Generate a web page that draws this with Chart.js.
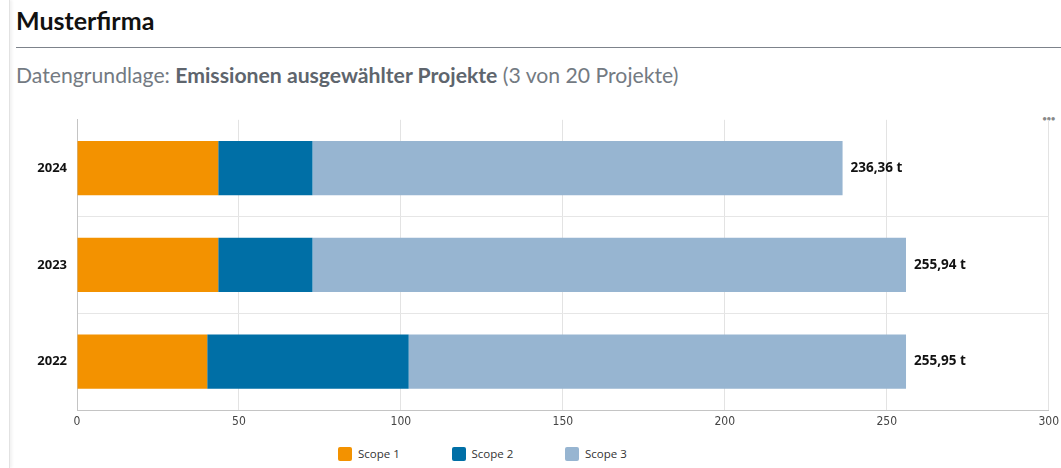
<!DOCTYPE html>
<html lang="de">
<head>
<meta charset="utf-8">
<script src="https://cdn.jsdelivr.net/npm/chart.js@4.4.1/dist/chart.umd.min.js"></script>
<style>
    body { margin: 0; background: #fff; width: 1061px; height: 468px; overflow: hidden; position: relative; font-family: Lato, "Noto Sans", sans-serif; }
    .edge { position: absolute; left: 0; top: 0; width: 9px; height: 468px; border-right: 1px solid #e2e2e2; box-shadow: 2px 0 3px rgba(0,0,0,0.06); }
    h1 { position: absolute; left: 16px; top: 5px; margin: 0; font-size: 25px; font-weight: 700; color: #111; }
    .rule { position: absolute; left: 16px; right: 0; top: 47px; border-top: 1px solid #7d838b; }
    .subtitle { position: absolute; left: 16px; top: 62px; margin: 0; font-size: 21.2px; color: #737a82; }
    .subtitle b { color: #5e656d; }
    .dots { position: absolute; left: 1042px; top: 113px; font-size: 9px; color: #888; letter-spacing: -1px; }
    .chart-box { position: absolute; left: 16px; top: 102px; width: 1048px; height: 330px; }
    .legend { position: absolute; top: 446px; left: 338px; display: flex; font-family: "Open Sans", sans-serif; font-size: 11.5px; color: #333; }
    .legend span { display: flex; align-items: center; width: 113.5px; }
    .legend i { width: 14px; height: 14px; border-radius: 2px; margin-right: 6px; display: inline-block; }
</style>
</head>
<body>
<div class="edge"></div>
<h1>Musterfirma</h1>
<div class="rule"></div>
<p class="subtitle">Datengrundlage: <b>Emissionen ausgewählter Projekte</b> (3 von 20 Projekte)</p>
<div class="dots">•••</div>
<div class="chart-box"><canvas id="emissions-chart"></canvas></div>
<div class="legend" id="legend"></div>

<script>
// Data
const years = ['2024', '2023', '2022'];
const scope1 = [43.6, 43.6, 40.2];
const scope2 = [29.1, 29.1, 62.2];
const scope3 = [163.66, 183.24, 153.55];
const seriesNames = ['Scope 1', 'Scope 2', 'Scope 3'];
const seriesColors = ['#F39200', '#006FA6', '#97B5D1'];
const xTicks = [0, 50, 100, 150, 200, 250, 300];

const totals = years.map((y, i) => scope1[i] + scope2[i] + scope3[i]);

// Total labels at bar end
const totalLabels = {
    id: 'totalLabels',
    afterDatasetsDraw(chart) {
        const ctx = chart.ctx;
        const xScale = chart.scales.x;
        const yScale = chart.scales.y;
        ctx.save();
        ctx.font = 'bold 13.5px "Open Sans", sans-serif';
        ctx.fillStyle = '#111';
        ctx.textBaseline = 'middle';
        totals.forEach((t, i) => {
            const x = xScale.getPixelForValue(t) + 8;
            const y = yScale.getPixelForValue(i);
            ctx.fillText(t.toFixed(2).replace('.', ',') + ' t', x, y);
        });
        ctx.restore();
    }
};

const ctx = document.getElementById('emissions-chart').getContext('2d');
new Chart(ctx, {
    type: 'bar',
    data: {
        labels: years,
        datasets: [scope1, scope2, scope3].map((d, i) => ({
            label: seriesNames[i],
            data: d,
            backgroundColor: seriesColors[i],
            borderWidth: 0,
            barPercentage: 0.56,
            categoryPercentage: 1
        }))
    },
    options: {
        indexAxis: 'y',
        responsive: true,
        maintainAspectRatio: false,
        animation: false,
        layout: { padding: { top: 9, right: 11 } },
        plugins: {
            legend: { display: false },
            tooltip: { enabled: false }
        },
        scales: {
            x: {
                stacked: true,
                min: 0,
                max: 300,
                afterBuildTicks: scale => { scale.ticks = xTicks.map(v => ({ value: v })); },
                afterFit: scale => { scale.height = 22; },
                grid: { color: '#e3e3e3', drawTicks: false },
                border: { color: '#c4c4c4' },
                ticks: {
                    padding: 5,
                    color: '#444',
                    font: { family: '"Liberation Sans Narrow", "DejaVu Sans Condensed", sans-serif', size: 12 }
                }
            },
            y: {
                stacked: true,
                afterFit: scale => { scale.width = 61; },
                grid: {
                    drawTicks: false,
                    color: c => c.index === 0 ? 'rgba(0,0,0,0)' : '#e6e6e6'
                },
                border: { color: '#c4c4c4' },
                ticks: {
                    padding: 10,
                    color: '#111',
                    font: { family: '"Open Sans", sans-serif', size: 13, weight: 'bold' }
                }
            }
        }
    },
    plugins: [totalLabels]
});

// Legend
const legendEl = document.getElementById('legend');
seriesNames.forEach((name, i) => {
    const item = document.createElement('span');
    item.innerHTML = `<i style="background:${seriesColors[i]}"></i>${name}`;
    legendEl.appendChild(item);
});
</script>
</body>
</html>
